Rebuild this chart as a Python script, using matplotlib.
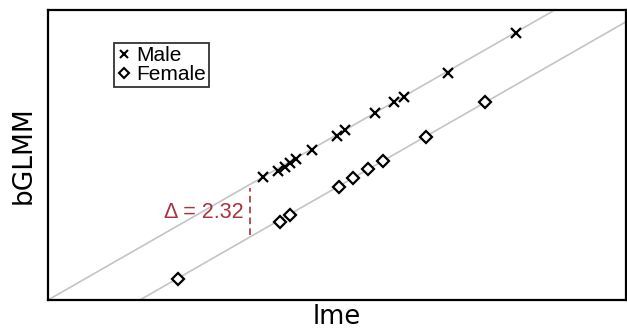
import matplotlib
matplotlib.use("Agg")
import matplotlib.pyplot as plt
from matplotlib.lines import Line2D

# ---- data ----
male_x = [5.43, 5.81, 5.99, 6.11, 6.26, 6.67, 7.30, 7.50, 8.26, 8.74, 8.99, 10.10, 11.82]
male_y = [5.43, 5.69, 5.87, 6.05, 6.22, 6.62, 7.24, 7.50, 8.25, 8.74, 8.96, 10.02, 11.78]
female_x = [3.28, 5.86, 6.11, 7.35, 7.70, 8.08, 8.46, 9.55, 11.04]
female_y = [0.93, 3.44, 3.75, 4.99, 5.38, 5.78, 6.13, 7.19, 8.74]
slope = 1.0
male_intercept = 0.0
delta = 2.32
female_intercept = male_intercept - delta
delta_x = 5.1

fig = plt.figure(figsize=(6.27, 3.29), dpi=100)
ax = fig.add_axes([48/627, 29/329, 578/627, 290/329])
ax.set_xlim(0, 14.6)
ax.set_ylim(0, 12.8)

line_col = "#c4c4c4"
ax.axline((0, male_intercept), slope=slope, color=line_col, lw=1.2, zorder=1)
ax.axline((0, female_intercept), slope=slope, color=line_col, lw=1.2, zorder=1)

ax.plot(male_x, male_y, ls="none", marker="x", ms=7.2, mew=1.6, color="black", zorder=3)
ax.plot(female_x, female_y, ls="none", marker="D", ms=6.4, mew=1.6, mfc="white", mec="black", zorder=3)

red = "#a8323e"
ax.vlines(delta_x, delta_x + female_intercept + 0.1, delta_x + male_intercept - 0.14,
          colors=red, linestyles=(0, (4, 2.5)), lw=1.2, zorder=2)
ax.text(delta_x - 0.15, 3.88, "Δ = " + f"{delta:.2f}", color=red, fontsize=15.5,
        family=["Liberation Sans", "DejaVu Sans"], ha="right", va="center")

ax.set_xticks([])
ax.set_yticks([])
for s in ax.spines.values():
    s.set_linewidth(1.6)
ax.set_xlabel("lme", fontsize=18.5, family="DejaVu Sans", labelpad=3)
ax.set_ylabel("bGLMM", fontsize=19, family="DejaVu Sans", labelpad=8)

handles = [
    Line2D([], [], ls="none", marker="x", ms=6, mew=1.5, color="black"),
    Line2D([], [], ls="none", marker="D", ms=5.5, mew=1.5, mfc="white", mec="black"),
]
leg = ax.legend(handles, ["Male", "Female"], loc="upper left",
                bbox_to_anchor=(0.115, 0.886), borderaxespad=0,
                fancybox=False, frameon=True, edgecolor="black",
                prop={"family": "Liberation Sans", "size": 15},
                handlelength=0.6, handletextpad=0.3, labelspacing=0.0,
                borderpad=0.15)
leg.get_frame().set_linewidth(1.3)

fig.savefig("out.png", dpi=100)
